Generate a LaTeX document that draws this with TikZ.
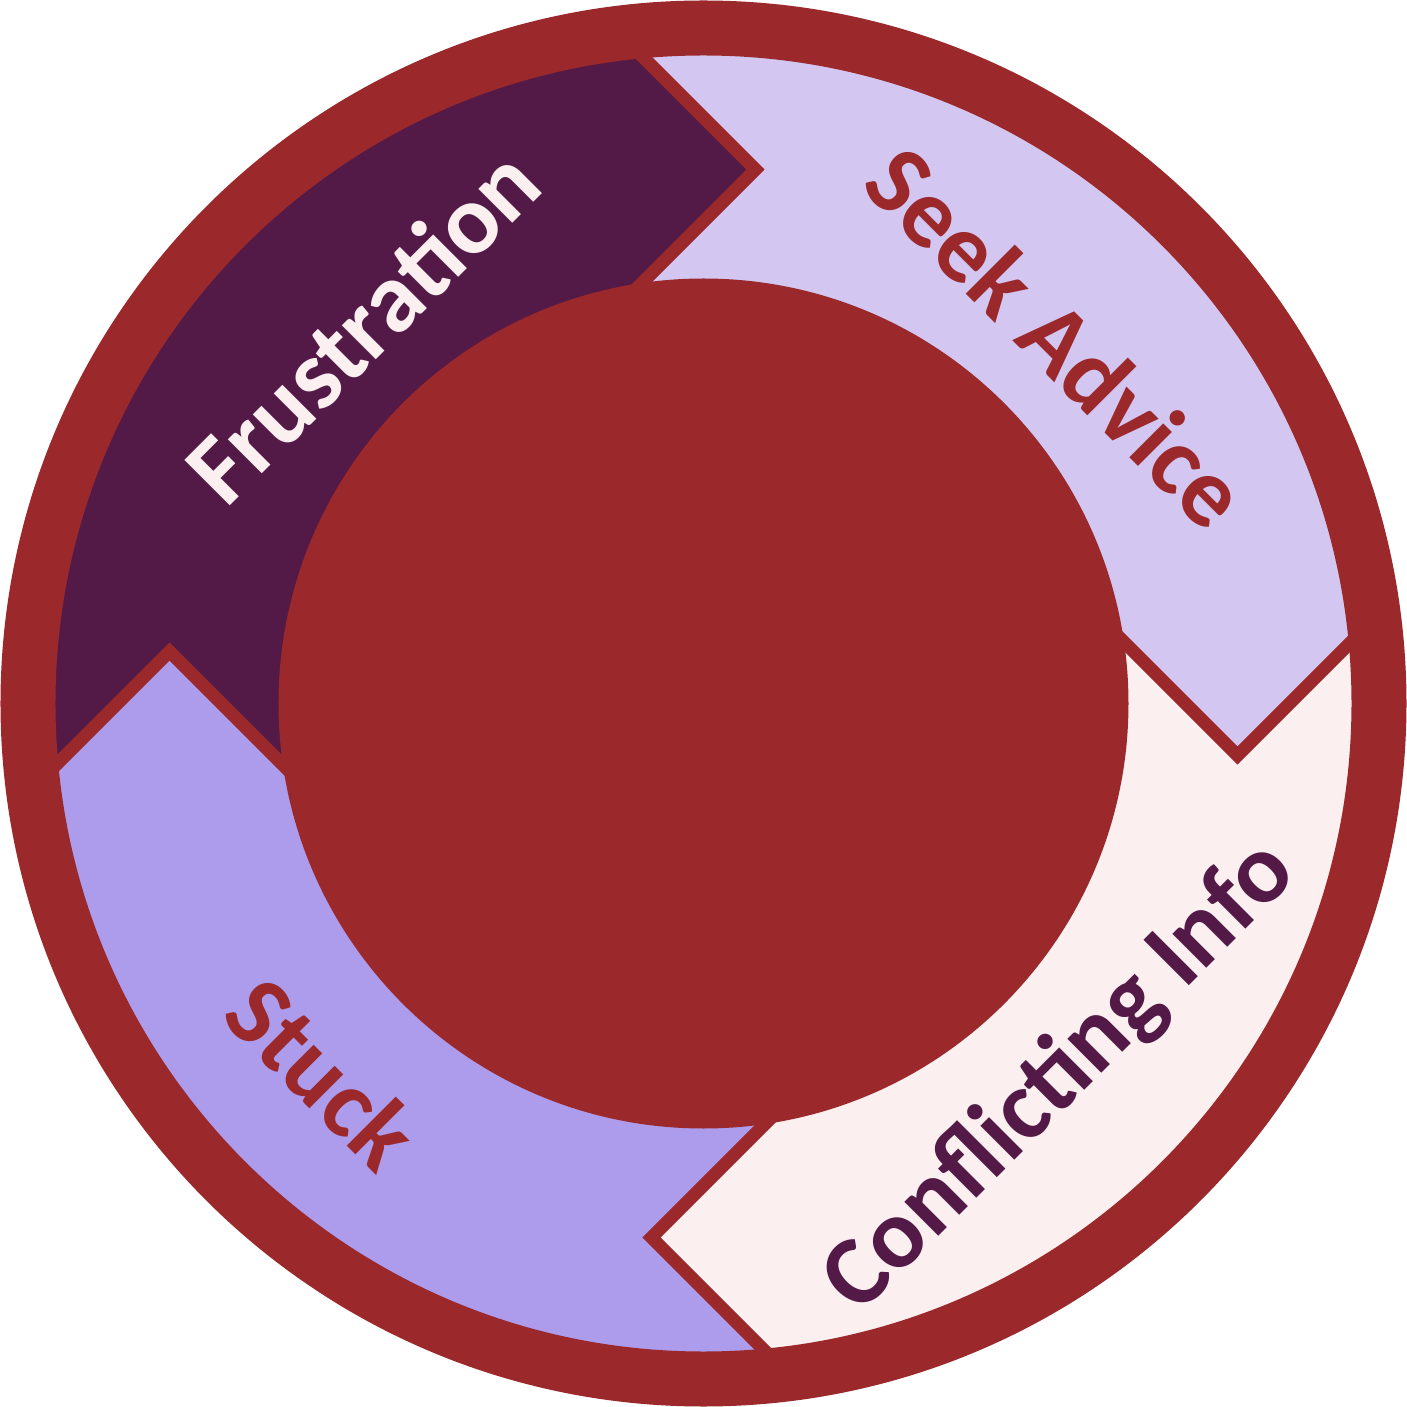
\documentclass[tikz,border=0pt]{standalone}
\usepackage{fontspec}
\setmainfont{Carlito}
\definecolor{ringred}{HTML}{9B292B}
\definecolor{frustc}{HTML}{531A48}
\definecolor{seekc}{HTML}{D3C7F2}
\definecolor{conflc}{HTML}{FBEFEF}
\definecolor{stuckc}{HTML}{AD9BEC}
\begin{document}
\begin{tikzpicture}[x=1pt,y=1pt,
  segline/.style={draw=ringred, line width=12.5pt, line join=miter},
  lbl/.style={inner sep=0pt, anchor=base, font=\fontsize{99}{99}\selectfont\bfseries}]
\useasboundingbox (-703.5,-703.5) rectangle (703.5,703.5);
\begin{scope}
  \clip (0,0) circle (690);
  % fills
  \fill[frustc] (-934,-348) -- (-534,52) -- (-134,-348) -- (-348,134) -- (52,534) -- (-348,934) -- (-1000,1000) -- cycle;
  \fill[seekc] (-348,934) -- (52,534) -- (-348,134) -- (134,348) -- (534,-52) -- (934,348) -- (1000,1000) -- cycle;
  \fill[conflc] (934,348) -- (534,-52) -- (134,348) -- (348,-134) -- (-52,-534) -- (348,-934) -- (1000,-1000) -- cycle;
  \fill[stuckc] (348,-934) -- (-52,-534) -- (348,-134) -- (-134,-348) -- (-534,52) -- (-934,-348) -- (-1000,-1000) -- cycle;
  % outlines
  \draw[segline] (-934,-348) -- (-534,52) -- (-134,-348) -- (-348,134) -- (52,534) -- (-348,934) -- (-1000,1000) -- cycle;
  \draw[segline] (-348,934) -- (52,534) -- (-348,134) -- (134,348) -- (534,-52) -- (934,348) -- (1000,1000) -- cycle;
  \draw[segline] (934,348) -- (534,-52) -- (134,348) -- (348,-134) -- (-52,-534) -- (348,-934) -- (1000,-1000) -- cycle;
  \draw[segline] (348,-934) -- (-52,-534) -- (348,-134) -- (-134,-348) -- (-534,52) -- (-934,-348) -- (-1000,-1000) -- cycle;
\end{scope}
% outer border ring and inner disc
\draw[ringred, line width=55pt] (0,0) circle (675.5);
\fill[ringred] (0,0) circle (425);
% labels
\node[lbl, text=conflc, rotate=45] (frus) at (-317,354) {Frustration};
\node[lbl, text=ringred, rotate=-45] (seek) at (329.6,342.2) {Seek Advice};
\node[lbl, text=frustc, rotate=45] (conf) at (375.6,-392.5) {Conflicting Info};
\node[lbl, text=ringred, rotate=-45] (stuck) at (-405.3,-393.7) {Stuck};
\end{tikzpicture}
\end{document}
